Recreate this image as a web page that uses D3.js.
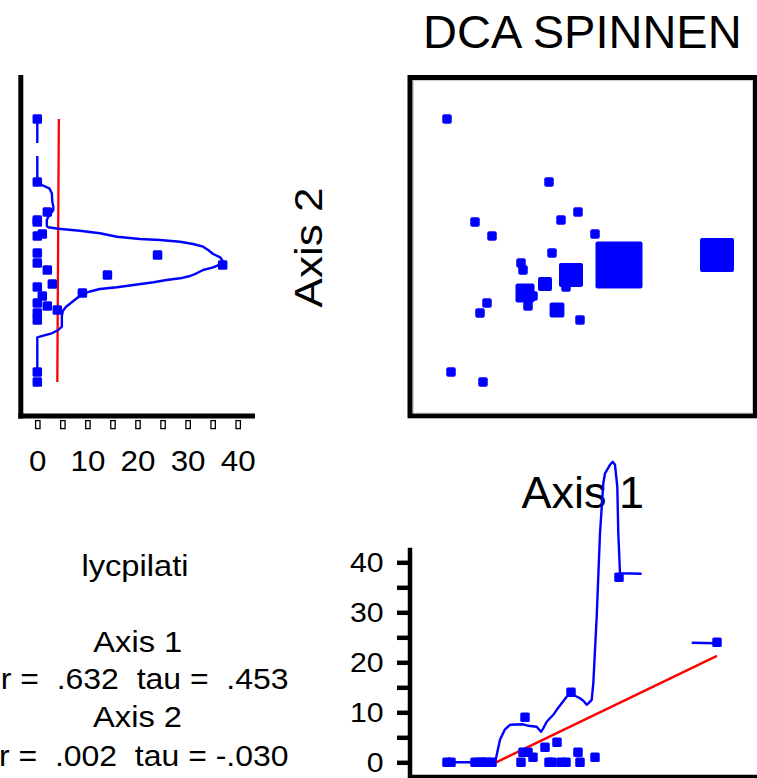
<!DOCTYPE html>
<html><head><meta charset="utf-8">
<script src="https://cdn.jsdelivr.net/npm/d3@7"></script>
<style>
body{margin:0;background:#fff}
svg{display:block}
text{font-family:"Liberation Sans",Arial,Helvetica,sans-serif;fill:#000}
.pre{white-space:pre}
</style>
</head><body>
<svg id="c" width="757" height="778"></svg>
<script>
// ---------------- data ----------------
const chartTitle = "DCA SPINNEN";
const speciesName = "lycpilati";
const axis1Label = "Axis 1";
const axis2Label = "Axis 2";
// DCA sample scores (arbitrary units) and abundance of lycpilati
const axis1Scores = [34,136,62,79,148,165,182,139,108,110,158,153,132,112,120,115,144,74,67,167,206,304,38,70];
const axis2Scores = [294,231,191,177,193,201,179,160,150,143,138,126,129,120,117,107,103,110,100,93,148,158,41,31];
const abundance   = [0,0,0,0,0,2,1,0,0,2,14,0,3,9,1,2,4,0,0,0,37,24,0,0];
// smoothed overlay along Axis 2: [axis2 score, abundance]; null = gap
const axis2Smooth = [[294,0],[270,0],null,[257,0],[231.3,0],[228,0.9],[224.7,2.4],[219.7,2.9],[211.3,3.0],[206.3,3.2],[203,3.2],[196.3,2.2],[193,1.9],[187,1.9],[185.7,2.2],[184.3,4.2],[182.3,8.5],[179.7,12.5],[176.3,15.9],[174,20.5],[173,24.5],[171.3,28.5],[169,31.1],[166.3,33.1],[163,34.1],[159,35.1],[155.7,36.5],[151.3,37.1],[149.7,37.0],[145.7,35.1],[143,33.1],[139.7,31.8],[137,30.5],[134.7,28.5],[133,25.8],[130.7,23.2],[128,19.2],[125.7,15.9],[124,12.5],[121.5,10.5],[118.5,8.9],[114,7.7],[110,6.7],[106,5.7],[102,5.1],[97,4.9],[86.3,4.9],[83,4.2],[79.7,2.9],[77.3,1.2],[75.7,0],[40.7,0]];
// smoothed overlay along Axis 1: [axis1 score, abundance]; null = gap
const axis1Smooth = [[32,0],[82,0],[83,0.8],[87,4.5],[92,6.6],[97,7.5],[110.3,7.6],[115.3,7.3],[123.7,7.1],[128,6.1],[130.3,6.8],[133.7,8.1],[140.3,9.5],[143.7,10.5],[148.7,11.8],[153.7,13.1],[157,13.8],[162,13.3],[167,12.8],[170.3,12.3],[173.7,11.5],[175.3,11.8],[178.7,12.5],[180.3,15.8],[183.7,29.1],[187,45.8],[190.3,55.8],[192,57.8],[197,59.5],[199.7,60.1],[202,59.5],[204.3,55.1],[205.3,45.8],[207,37.8],[228.7,37.7],null,[278.7,23.9],[303.7,23.8]];
const abundanceTicks = [0,5,10,15,20,25,30,35,40];
const statAxis1 = "r =  .632  tau =  .453";
const statAxis2 = "r =  .002  tau = -.030";

// ---------------- setup ----------------
const svg = d3.select("#c");
const BLUE = "#0000ff", RED = "#ff0000";
const pts = axis1Scores.map((a,i)=>({a1:a, a2:axis2Scores[i], v:abundance[i]}));

const xMain = d3.scaleLinear().domain([0,340]).range([413,753]);
const yMain = d3.scaleLinear().domain([0,333]).range([413,80]);
const xLeft = d3.scaleLinear().domain([0,40]).range([37.3,237.7]);
const yBot  = d3.scaleLinear().domain([0,40]).range([762.3,562.3]);
const sizeS = d3.scaleLinear().domain([2,3,9,37]).range([9.5,14,19,47]).clamp(true);
const MK = 9.5;

function regress(xs, ys){
  const mx = d3.mean(xs), my = d3.mean(ys);
  let sxy=0, sxx=0;
  xs.forEach((x,i)=>{sxy+=(x-mx)*(ys[i]-my); sxx+=(x-mx)*(x-mx);});
  const b = sxy/sxx; return {a: my-b*mx, b};
}

// ---------------- title & labels ----------------
svg.append("text").attr("x",423).attr("y",48.3).attr("font-size",47).text(chartTitle);
svg.append("text").attr("transform","translate(321.5,247.5) rotate(-90) scale(1,0.9)")
  .attr("text-anchor","middle").attr("font-size",44).text(axis2Label);

// ---------------- main panel ----------------
svg.append("rect").attr("x",410).attr("y",77.5).attr("width",345).attr("height",338.3)
  .attr("fill","#fff").attr("stroke","#000").attr("stroke-width",5);
svg.append("rect").attr("x",413.5).attr("y",80.5).attr("width",339).attr("height",332.5)
  .attr("fill","none").attr("stroke","#cfcfcf").attr("stroke-width",1);
svg.append("g").selectAll("rect").data(pts).join("rect")
  .attr("x",d=>xMain(d.a1)-sizeS(d.v)/2).attr("y",d=>yMain(d.a2)-sizeS(d.v)/2)
  .attr("width",d=>sizeS(d.v)).attr("height",d=>sizeS(d.v))
  .attr("rx",2).attr("fill",BLUE);

// ---------------- left panel (abundance vs Axis 2) ----------------
const gl = svg.append("g");
const axL = d3.axisBottom(xLeft).tickValues(abundanceTicks).tickSize(0)
  .tickFormat(d=> d%10===0 ? d : "");
const gAxL = gl.append("g").attr("transform","translate(0,416)").call(axL);
gAxL.select(".domain").remove();
gAxL.selectAll(".tick text").attr("y",54.7).attr("dy",0).attr("font-size",29)
  .attr("font-family",null).attr("transform","scale(1.08,1)");
gAxL.selectAll(".tick").append("rect").attr("x",-2.2).attr("y",4.6).attr("width",4.4).attr("height",8)
  .attr("fill","#fff").attr("stroke","#000").attr("stroke-width",1.3);
gl.append("line").attr("x1",20.8).attr("x2",20.8).attr("y1",75).attr("y2",418.5)
  .attr("stroke","#000").attr("stroke-width",5);
gl.append("line").attr("x1",18.3).attr("x2",255).attr("y1",416).attr("y2",416)
  .attr("stroke","#000").attr("stroke-width",5);
// regression (abundance on axis 2)
const rL = regress(axis2Scores, abundance);
const a2ext = d3.extent(axis2Scores);
gl.append("line")
  .attr("x1",xLeft(rL.a+rL.b*a2ext[0])).attr("y1",yMain(a2ext[0]))
  .attr("x2",xLeft(rL.a+rL.b*a2ext[1])).attr("y2",yMain(a2ext[1]))
  .attr("stroke",RED).attr("stroke-width",2.3);
gl.append("path").datum(axis2Smooth)
  .attr("d", d3.line().defined(d=>d!==null).x(d=>xLeft(d[1])).y(d=>yMain(d[0])))
  .attr("fill","none").attr("stroke",BLUE).attr("stroke-width",2.4).attr("stroke-linejoin","round");
gl.append("g").selectAll("rect").data(pts).join("rect")
  .attr("x",d=>xLeft(d.v)-MK/2).attr("y",d=>yMain(d.a2)-MK/2)
  .attr("width",MK).attr("height",MK).attr("rx",1.5).attr("fill",BLUE);

// ---------------- bottom panel (abundance vs Axis 1) ----------------
svg.append("text").attr("x",521.5).attr("y",508.3).attr("font-size",45).text(axis1Label);
const gb = svg.append("g");
const axB = d3.axisLeft(yBot).tickValues(abundanceTicks).tickSize(13)
  .tickFormat(d=> d%10===0 ? d : "");
const gAxB = gb.append("g").attr("transform","translate(410,0)").call(axB);
gAxB.select(".domain").remove();
gAxB.selectAll(".tick line").attr("stroke","#000").attr("stroke-width",4.5);
gAxB.selectAll(".tick text").attr("x",-26.5/1.08).attr("font-size",28)
  .attr("font-family",null).attr("transform","scale(1.08,1)");
gb.append("line").attr("x1",410).attr("x2",410).attr("y1",547.7).attr("y2",778)
  .attr("stroke","#000").attr("stroke-width",4.5);
gb.append("line").attr("x1",408).attr("x2",757).attr("y1",776.8).attr("y2",776.8)
  .attr("stroke","#000").attr("stroke-width",4);
// regression (abundance on axis 1), drawn where prediction >= 0
const rB = regress(axis1Scores, abundance);
const a1ext = d3.extent(axis1Scores);
const x0 = Math.max(a1ext[0], -rB.a/rB.b);
gb.append("line")
  .attr("x1",xMain(x0)).attr("y1",yBot(rB.a+rB.b*x0))
  .attr("x2",xMain(a1ext[1])).attr("y2",yBot(rB.a+rB.b*a1ext[1]))
  .attr("stroke",RED).attr("stroke-width",2.4);
gb.append("path").datum(axis1Smooth)
  .attr("d", d3.line().defined(d=>d!==null).x(d=>xMain(d[0])).y(d=>yBot(d[1])))
  .attr("fill","none").attr("stroke",BLUE).attr("stroke-width",2.4).attr("stroke-linejoin","round");
gb.append("g").selectAll("rect").data(pts).join("rect")
  .attr("x",d=>xMain(d.a1)-MK/2).attr("y",d=>yBot(d.v)-MK/2)
  .attr("width",MK).attr("height",MK).attr("rx",1.5).attr("fill",BLUE);

// ---------------- statistics text ----------------
const SX = 1.09;
const gt = svg.append("g").attr("transform",`scale(${SX},1)`).attr("font-size",30);
gt.append("text").attr("x",135/SX).attr("y",576).attr("text-anchor","middle").text(speciesName);
gt.append("text").attr("x",93.3/SX).attr("y",651.7).text(axis1Label);
gt.append("text").attr("x",93/SX).attr("y",726.7).text(axis2Label);
const SX2 = 1.065;
const gs = svg.append("g").attr("transform",`scale(${SX2},1)`).attr("font-size",30);
gs.append("text").attr("class","pre").attr("xml:space","preserve")
  .attr("x",288.5/SX2).attr("y",689.3).attr("text-anchor","end").text(statAxis1);
gs.append("text").attr("class","pre").attr("xml:space","preserve")
  .attr("x",288.5/SX2).attr("y",766).attr("text-anchor","end").text(statAxis2);
</script>
</body></html>
